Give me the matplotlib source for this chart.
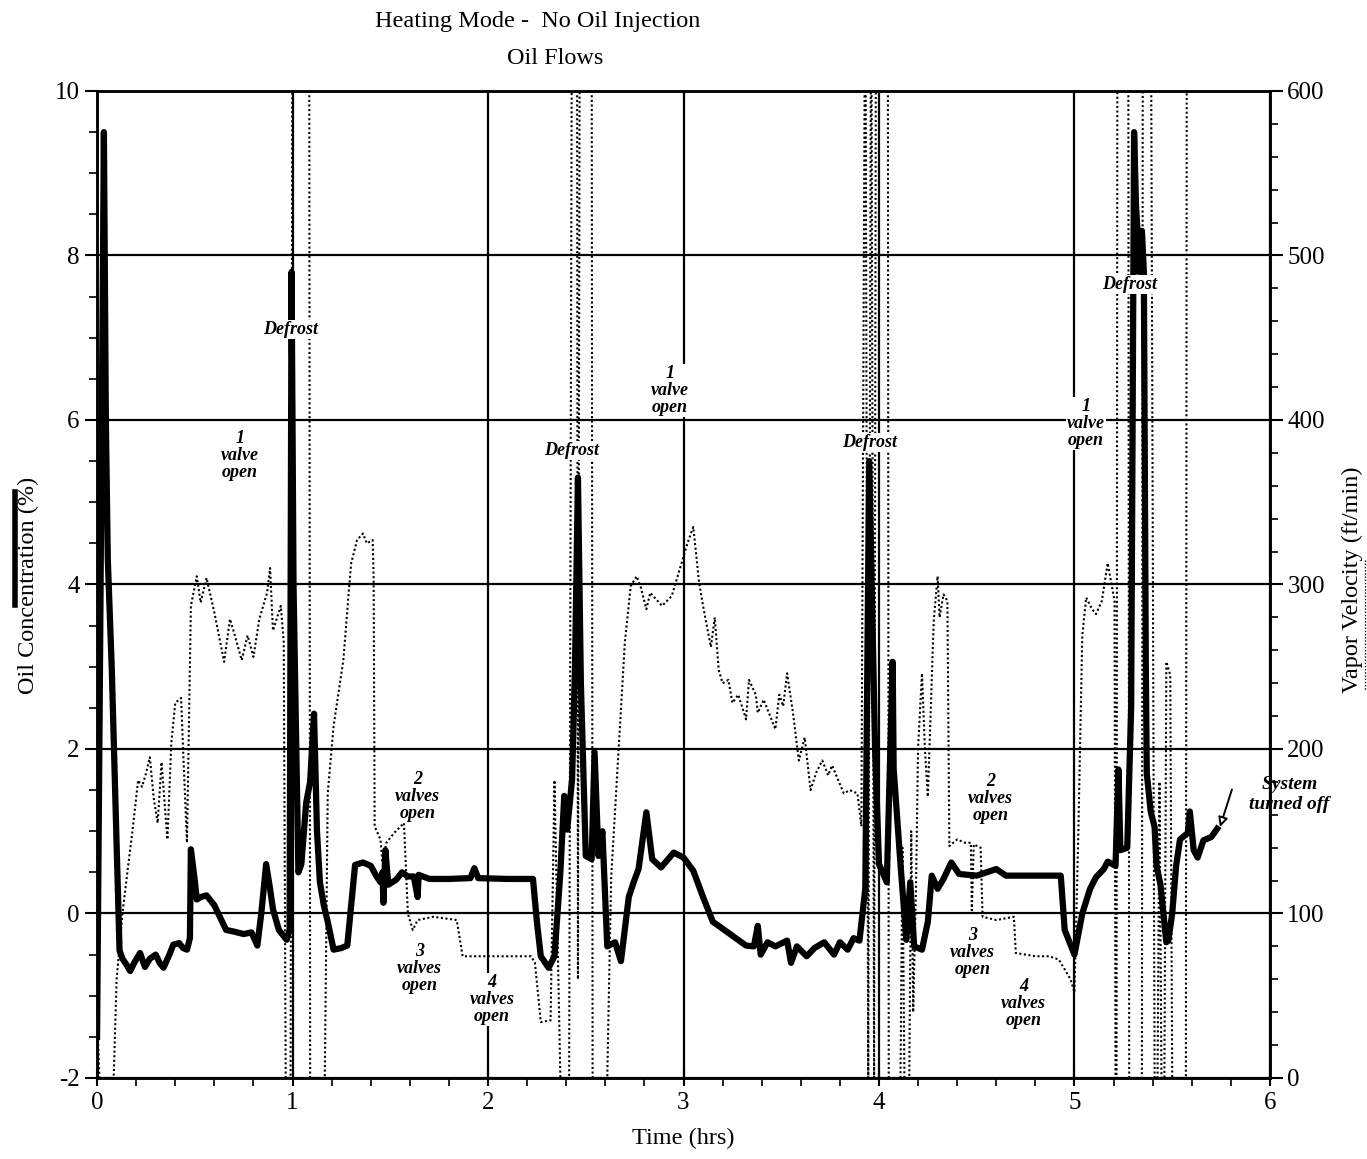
import matplotlib
matplotlib.use("Agg")
import matplotlib.pyplot as plt
from matplotlib.lines import Line2D
from matplotlib.ticker import MultipleLocator

plt.rcParams['font.family'] = ['Liberation Serif', 'DejaVu Serif']
plt.rcParams['axes.unicode_minus'] = False

# oil concentration (%), left axis
oil_t = [0.000, 0.015, 0.035, 0.045, 0.055, 0.075, 0.09, 0.115, 0.13, 0.15, 0.17, 0.19, 0.22, 0.245,
         0.27, 0.30, 0.32, 0.34, 0.37, 0.39, 0.42, 0.44, 0.46, 0.475, 0.48, 0.50, 0.51, 0.53, 0.56,
         0.60, 0.63, 0.66, 0.70, 0.75, 0.79, 0.82, 0.84, 0.865, 0.885, 0.90, 0.93, 0.97, 0.985,
         0.995, 1.005, 1.03, 1.045, 1.07, 1.09, 1.11, 1.125, 1.14, 1.16, 1.18, 1.21, 1.25, 1.28,
         1.30, 1.32, 1.36, 1.40, 1.43, 1.45, 1.46, 1.465, 1.475, 1.49, 1.53, 1.56, 1.59, 1.62,
         1.64, 1.645, 1.70, 1.80, 1.91, 1.93, 1.95, 2.10, 2.23, 2.25, 2.27, 2.31, 2.34, 2.37,
         2.39, 2.405, 2.43, 2.445, 2.46, 2.475, 2.50, 2.53, 2.545, 2.565, 2.585, 2.61, 2.65,
         2.68, 2.72, 2.745, 2.77, 2.81, 2.84, 2.885, 2.95, 3.00, 3.05, 3.10, 3.15, 3.25, 3.32,
         3.36, 3.38, 3.395, 3.43, 3.47, 3.53, 3.55, 3.58, 3.63, 3.67, 3.72, 3.77, 3.80, 3.84,
         3.87, 3.90, 3.93, 3.95, 3.98, 4.00, 4.04, 4.07, 4.075, 4.11, 4.14, 4.16, 4.18, 4.22,
         4.25, 4.27, 4.30, 4.33, 4.37, 4.41, 4.50, 4.55, 4.60, 4.65, 4.93, 4.95, 5.00, 5.04,
         5.08, 5.11, 5.15, 5.17, 5.21, 5.225, 5.235, 5.27, 5.29, 5.305, 5.315, 5.325, 5.33,
         5.345, 5.355, 5.365, 5.37, 5.39, 5.41, 5.42, 5.44, 5.47, 5.48, 5.50, 5.52, 5.54, 5.58,
         5.59, 5.61, 5.63, 5.66, 5.70, 5.73]
oil_c = [-1.5, 3.0, 9.5, 6.0, 4.3, 3.0, 1.7, -0.45, -0.55, -0.62, -0.7, -0.6, -0.48, -0.65,
         -0.55, -0.5, -0.6, -0.66, -0.5, -0.38, -0.36, -0.42, -0.44, -0.3, 0.78, 0.4, 0.17, 0.2, 0.22,
         0.1, -0.05, -0.2, -0.22, -0.25, -0.23, -0.39, 0.0, 0.6, 0.3, 0.05, -0.2, -0.32, -0.2,
         7.8, 4.0, 0.5, 0.6, 1.35, 1.6, 2.43, 1.0, 0.38, 0.1, -0.1, -0.44, -0.42, -0.39,
         0.1, 0.59, 0.62, 0.58, 0.45, 0.38, 0.5, 0.13, 0.77, 0.35, 0.41, 0.5, 0.45, 0.45,
         0.2, 0.47, 0.42, 0.42, 0.43, 0.55, 0.43, 0.42, 0.42, -0.1, -0.52, -0.66, -0.52, 0.5,
         1.43, 1.02, 1.63, 3.0, 5.3, 2.8, 0.7, 0.66, 1.96, 0.7, 1.0, -0.4, -0.35,
         -0.58, 0.2, 0.38, 0.54, 1.23, 0.66, 0.56, 0.74, 0.68, 0.52, 0.2, -0.1, -0.27, -0.39,
         -0.4, -0.15, -0.5, -0.35, -0.4, -0.33, -0.6, -0.4, -0.52, -0.42, -0.35, -0.5, -0.35, -0.44,
         -0.3, -0.33, 0.3, 5.5, 2.0, 0.6, 0.38, 3.06, 1.76, 0.6, -0.32, 0.38, -0.4, -0.44,
         -0.1, 0.46, 0.3, 0.42, 0.62, 0.48, 0.46, 0.5, 0.54, 0.46, 0.46, -0.2, -0.5, 0.0,
         0.3, 0.44, 0.54, 0.63, 0.58, 1.75, 0.77, 0.8, 2.5, 9.5, 8.6, 8.2, 7.8,
         8.3, 7.8, 3.0, 1.7, 1.24, 1.05, 0.58, 0.35, -0.35, -0.33, 0.0, 0.58, 0.9, 0.98,
         1.24, 0.77, 0.68, 0.89, 0.93, 1.03]

# vapor velocity (ft/min), right axis; values above 600 run off the top
vel_t = [0.000, 0.012, 0.085, 0.10, 0.13, 0.16, 0.18, 0.21, 0.23, 0.25, 0.27, 0.29, 0.31, 0.33,
         0.35, 0.36, 0.38, 0.40, 0.43, 0.44, 0.46, 0.48, 0.51, 0.53, 0.56, 0.60, 0.65, 0.68,
         0.70, 0.74, 0.77, 0.80, 0.83, 0.87, 0.885, 0.90, 0.94, 0.955, 0.965, 0.99, 1.00,
         1.085, 1.09, 1.165, 1.18, 1.21, 1.26, 1.29, 1.30, 1.33, 1.36, 1.38, 1.41, 1.415,
         1.42, 1.45, 1.46, 1.48, 1.52, 1.57, 1.59, 1.615, 1.64, 1.72, 1.84, 1.87, 2.10, 2.22,
         2.24, 2.27, 2.32, 2.34, 2.37, 2.415, 2.43, 2.455, 2.46, 2.47, 2.53, 2.535, 2.61,
         2.63, 2.67, 2.70, 2.73, 2.76, 2.78, 2.81, 2.83, 2.89, 2.94, 2.97, 3.02, 3.05, 3.08,
         3.10, 3.14, 3.16, 3.18, 3.20, 3.23, 3.25, 3.28, 3.32, 3.335, 3.37, 3.38, 3.41, 3.47,
         3.49, 3.51, 3.53, 3.56, 3.59, 3.62, 3.65, 3.68, 3.71, 3.74, 3.76, 3.82, 3.85, 3.89,
         3.91, 3.93, 3.945, 3.96, 3.975, 3.985, 4.045, 4.05, 4.11, 4.12, 4.13, 4.155, 4.165,
         4.175, 4.19, 4.20, 4.22, 4.235, 4.25, 4.28, 4.30, 4.31, 4.33, 4.35, 4.36, 4.40, 4.44,
         4.47, 4.475, 4.485, 4.52, 4.53, 4.60, 4.69, 4.70, 4.80, 4.87, 4.92, 4.98, 5.00, 5.02,
         5.04, 5.06, 5.09, 5.11, 5.14, 5.17, 5.19, 5.205, 5.21, 5.215, 5.22, 5.275, 5.28,
         5.345, 5.35, 5.39, 5.40, 5.41, 5.425, 5.435, 5.445, 5.46, 5.47, 5.49, 5.50, 5.57,
         5.575, 5.58]
vel_v = [40, 0, 0, 60, 100, 130, 149, 181, 177, 185, 195, 170, 155, 192,
         160, 145, 204, 228, 231, 200, 143, 287, 305, 289, 304, 283, 253, 279,
         271, 254, 269, 256, 279, 295, 310, 272, 287, 265, 0, 0, 700,
         700, 0, 0, 173, 214, 254, 299, 313, 327, 331, 325, 327, 303,
         153, 145, 131, 143, 149, 155, 100, 90, 96, 98, 96, 74, 74, 74,
         70, 34, 35, 181, 0, 0, 700, 700, 60, 700, 700, 0, 0,
         122, 204, 265, 299, 305, 299, 285, 295, 287, 293, 305, 325, 335, 301,
         287, 262, 280, 248, 240, 242, 228, 233, 218, 242, 233, 222, 230, 212,
         233, 226, 246, 222, 193, 207, 175, 186, 193, 184, 190, 173, 175, 173,
         153, 700, 0, 700, 0, 700, 700, 0, 0, 140, 0, 0, 150,
         40, 120, 201, 246, 200, 171, 278, 305, 280, 294, 290, 141, 145, 143,
         143, 102, 142, 140, 98, 96, 98, 76, 74, 74, 72, 60, 52, 150,
         269, 292, 285, 282, 290, 313, 300, 290, 0, 0, 700, 700, 0,
         0, 700, 700, 354, 0, 0, 180, 0, 0, 253, 245, 0, 0,
         700, 700]

notes = [("Defrost", 0.99, 7.1), ("Defrost", 2.43, 5.63), ("Defrost", 3.95, 5.73),
         ("Defrost", 5.28, 7.65),
         ("1\nvalve\nopen", 0.73, 5.57), ("1\nvalve\nopen", 2.93, 6.36),
         ("1\nvalve\nopen", 5.06, 5.96),
         ("2\nvalves\nopen", 1.64, 1.42), ("3\nvalves\nopen", 1.65, -0.67),
         ("4\nvalves\nopen", 2.02, -1.05),
         ("2\nvalves\nopen", 4.57, 1.40), ("3\nvalves\nopen", 4.48, -0.48),
         ("4\nvalves\nopen", 4.74, -1.10)]

fig = plt.figure(figsize=(13.67, 11.59), dpi=100)
ax = fig.add_axes([0.071, 0.0699, 0.858, 0.8516])
ax2 = ax.twinx()

ax.set_xlim(0, 6)
ax.set_ylim(-2, 10)
ax2.set_ylim(0, 600)

ax.xaxis.set_major_locator(MultipleLocator(1))
ax.xaxis.set_minor_locator(MultipleLocator(0.2))
ax.yaxis.set_major_locator(MultipleLocator(2))
ax.yaxis.set_minor_locator(MultipleLocator(0.5))
ax2.yaxis.set_major_locator(MultipleLocator(100))
ax2.yaxis.set_minor_locator(MultipleLocator(20))

ax.grid(True, which="major", color="black", lw=1.6)
ax.set_axisbelow(True)

ax.tick_params(axis="x", which="major", direction="inout", length=12, width=1.5, labelsize=18, pad=4)
ax.tick_params(axis="x", which="minor", direction="out", length=6, width=1.2)
ax.tick_params(axis="y", which="major", direction="out", length=9, width=1.5, labelsize=18)
ax.tick_params(axis="y", which="minor", direction="out", length=6, width=1.2)
ax2.tick_params(axis="y", which="major", direction="out", length=9, width=1.5, labelsize=18)
ax2.tick_params(axis="y", which="minor", direction="out", length=6, width=1.2)
for a in (ax, ax2):
    for s in a.spines.values():
        s.set_linewidth(1.8)

ax2.plot(vel_t, vel_v, color="black", lw=1.5, ls=(0, (1, 1.2)), zorder=2)
ax.plot(oil_t, oil_c, color="black", lw=4.5, solid_joinstyle="round", zorder=3)
ax.set_zorder(ax2.get_zorder() + 1)
ax.patch.set_visible(False)

for txt, x, y in notes:
    ax.text(x, y, txt, ha="center", va="center", fontsize=13, style="italic", weight="bold",
            linespacing=1.0, zorder=6,
            bbox=dict(boxstyle="square,pad=0.05", fc="white", ec="none"))

ax.text(6.1, 1.45, "System\nturned off", ha="center", va="center", fontsize=14,
        style="italic", weight="bold", clip_on=False, zorder=6)
ax.annotate("", xy=(5.74, 1.02), xytext=(5.81, 1.54),
            arrowprops=dict(arrowstyle="-|>", fc="white", ec="black", lw=1.4,
                            mutation_scale=14), annotation_clip=False, zorder=6)

ax.set_xlabel("Time (hrs)", fontsize=17.5, labelpad=10)
fig.text(28 / 1367, 1 - 585 / 1159, "Oil Concentration (%)", rotation=90,
         ha="center", va="center", fontsize=17.5)
fig.text(1352 / 1367, 1 - 580 / 1159, "Vapor Velocity (ft/min)", rotation=90,
         ha="center", va="center", fontsize=17.5)
fig.add_artist(Line2D([15 / 1367, 15 / 1367], [1 - 492 / 1159, 1 - 605 / 1159],
                      color="black", lw=4))
fig.add_artist(Line2D([1365 / 1367, 1365 / 1367], [1 - 560 / 1159, 1 - 690 / 1159],
                      color="black", lw=1.0, ls=(0, (1, 1.3))))

fig.text(538 / 1367, 1 - 22 / 1159, "Heating Mode -  No Oil Injection", ha="center",
         va="center", fontsize=17.5)
fig.text(555 / 1367, 1 - 58 / 1159, "Oil Flows", ha="center", va="center", fontsize=17.5)

fig.savefig("out.png", dpi=100)
